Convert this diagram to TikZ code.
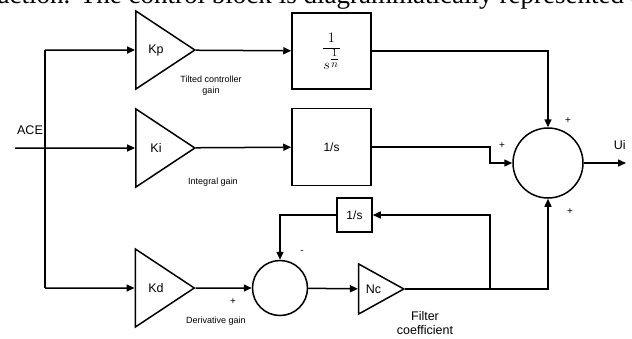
\documentclass[tikz,border=0pt]{standalone}
\usepackage{fontspec}
\setmainfont{Liberation Sans}
\newfontfamily\pageserif{Liberation Serif}
\usetikzlibrary{shapes.geometric,arrows.meta,calc}

\tikzset{
  gain/.style={draw, isosceles triangle, isosceles triangle apex angle=67, inner sep=0pt, font=\fontsize{12.5}{14}\selectfont},
  block/.style={draw, rectangle, inner sep=0pt, font=\fontsize{12}{14}\selectfont},
  summer/.style={draw, circle, inner sep=0pt},
  note/.style={align=center, font=\fontsize{9}{11}\selectfont},
  sign/.style={inner sep=0pt, font=\fontsize{10}{10}\selectfont},
}

\begin{document}
\begin{tikzpicture}[x=1pt, y=-1pt, line width=1.5pt, >={Triangle[length=8pt,width=7pt]}]

\useasboundingbox (0,0) rectangle (632,338);
\clip (0,0) rectangle (632,338);

% line of the page above the figure
\node (pageline) at (-3,3.5) [anchor=base west, inner sep=0pt, font=\pageserif\fontsize{27}{29}\selectfont] {\makebox[645pt][s]{action. The control block is diagrammatically represented a}};

\coordinate (ace) at (15,148);
\coordinate (split) at (45,148);
\node (acelabel) at (30,130) [font=\fontsize{12.5}{14}\selectfont] {ACE};

\node (kp) at (156,50) [gain, minimum height=59pt, minimum width=77pt] {Kp};
\node (ki) at (156,148) [gain, minimum height=59pt, minimum width=78pt] {Ki};
\node (kd) at (156,288) [gain, minimum height=59pt, minimum width=78pt] {Kd};

\node (kpnote) at (211,86) [note] {Tilted controller\\gain};
\node (kinote) at (213,182) [note] {Integral gain};
\node (kdnote) at (216,321) [note] {Derivative gain};

\node (tilt) at (331.5,51) [block, minimum width=79pt, minimum height=76pt, font=\fontsize{15}{17}\selectfont] {$\displaystyle\frac{1}{s^{\textstyle\frac{1}{n}}}$};
\node (integ) at (331.5,147) [block, minimum width=79pt, minimum height=77pt] {1/s};

\node (sum) at (548,163) [summer, minimum size=70pt] {};
\node (dsum) at (280,288) [summer, minimum size=55pt] {};

\node (nc) at (373.5,289) [gain, isosceles triangle apex angle=58, minimum height=45pt, minimum width=50pt] {Nc};
\node (ncnote) at (425,323) [align=center, font=\fontsize{12.5}{14}\selectfont] {Filter\\coefficient};

\node (filt) at (354.5,215) [block, minimum width=35pt, minimum height=34pt] {1/s};

\coordinate (kijog) at (490,147);
\coordinate (branch) at (490,289);
\coordinate (ui) at (626,163);

% input and splitting
\draw[->] (ace) -- (ki);
\draw (split |- kp) -- (split |- kd);
\draw[->] (split |- kp) -- (kp);
\draw[->] (split |- kd) -- (kd);

% proportional path
\draw[->] (kp) -- (tilt);
\draw[->] (tilt) -| (sum);

% integral path
\draw[->] (ki) -- (integ);
\draw[->] (integ) -- (kijog) |- (sum);

% derivative path
\draw[->] (kd) -- (dsum);
\draw[->] (dsum) -- (nc);
\draw[->] (nc) -| (sum);
\draw[->] (branch) |- (filt);
\draw[->] (filt) -| (dsum);

% output
\draw[->] (sum) -- node[pos=0.85, above=9pt, font=\fontsize{12.5}{14}\selectfont] {Ui} (ui);

\node (s1) at (568,121) [sign] {+};
\node (s2) at (502,146) [sign] {+};
\node (s3) at (570,212) [sign] {+};
\node (s4) at (233,302) [sign] {+};
\node (s5) at (302,252) [sign] {-};

\end{tikzpicture}
\end{document}
